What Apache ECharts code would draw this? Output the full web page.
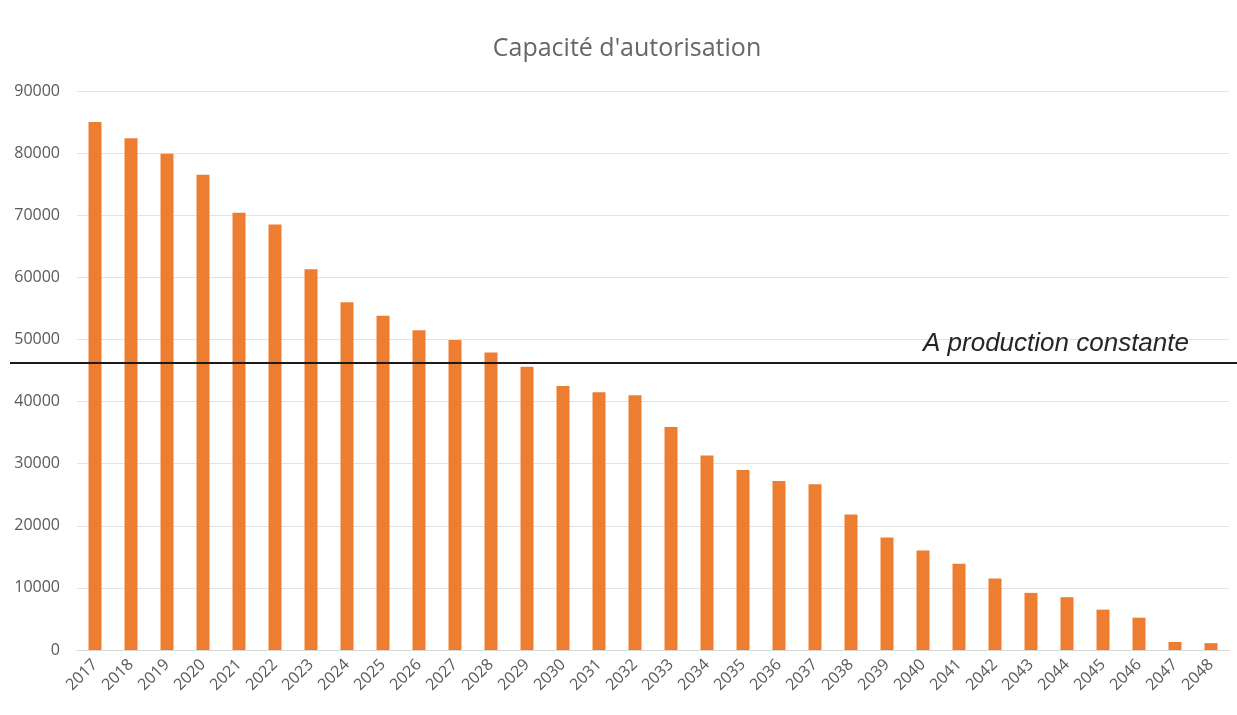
<!DOCTYPE html>
<html>
<head>
<meta charset="utf-8">
<script src="https://cdn.jsdelivr.net/npm/echarts@6/dist/echarts.min.js"></script>
<style>
  html, body { margin: 0; padding: 0; background: #fff; }
  #chart { width: 1237px; height: 715px; }
</style>
</head>
<body>
<div id="chart"></div>
<script>
const years = ['2017','2018','2019','2020','2021','2022','2023','2024','2025','2026','2027','2028','2029','2030','2031','2032',
               '2033','2034','2035','2036','2037','2038','2039','2040','2041','2042','2043','2044','2045','2046','2047','2048'];
const capacite = [85000, 82400, 79900, 76500, 70400, 68500, 61300, 56000, 53800, 51500, 49900, 47900, 45600, 42500, 41500, 41000,
                  35900, 31300, 29000, 27200, 26700, 21800, 18100, 16000, 13900, 11500, 9200, 8500, 6500, 5200, 1300, 1100];
const productionConstante = 46200;
const lineLabel = 'A production constante';

let myChart = echarts.init(document.getElementById('chart'));
let axisColor = '#595959';

let option = {
    animation: false,
    title: {
        text: "Capacité d'autorisation",
        left: 622,
        top: 31,
        textAlign: 'center',
        textStyle: {
            fontFamily: 'Open Sans',
            fontSize: 25,
            fontWeight: 'normal',
            color: '#666666'
        }
    },
    grid: {
        left: 77,
        right: 8,
        top: 91,
        bottom: 65
    },
    xAxis: {
        type: 'category',
        data: years,
        axisTick: { show: false },
        axisLine: { lineStyle: { color: '#d9d9d9' } },
        axisLabel: {
            rotate: 45,
            color: axisColor,
            fontSize: 16,
            fontFamily: 'Open Sans',
            margin: 12
        }
    },
    yAxis: {
        type: 'value',
        min: 0,
        max: 90000,
        interval: 10000,
        axisLine: { show: false },
        axisTick: { show: false },
        splitLine: { lineStyle: { color: '#e3e3e3', width: 1 } },
        axisLabel: {
            color: axisColor,
            fontSize: 16,
            fontFamily: 'Open Sans',
            margin: 17,
            formatter: function (v) { return String(v); }
        }
    },
    series: [{
        name: 'Capacité',
        type: 'bar',
        data: capacite,
        barWidth: 13,
        itemStyle: { color: '#ed7d31' }
    }]
};
myChart.setOption(option);

// ligne "à production constante" sur toute la largeur
let yPix = myChart.convertToPixel({ yAxisIndex: 0 }, productionConstante);
myChart.setOption({
    graphic: [
        {
            type: 'line',
            shape: { x1: 10, y1: yPix, x2: 1237, y2: yPix },
            style: { stroke: '#1a1a1a', lineWidth: 2 },
            z: 10
        },
        {
            type: 'text',
            x: 923,
            y: yPix - 19,
            style: {
                text: lineLabel,
                fontSize: 26,
                fontStyle: 'italic',
                fontFamily: 'Liberation Sans',
                fill: '#262626',
                verticalAlign: 'middle'
            },
            z: 10
        }
    ]
});
</script>
</body>
</html>
